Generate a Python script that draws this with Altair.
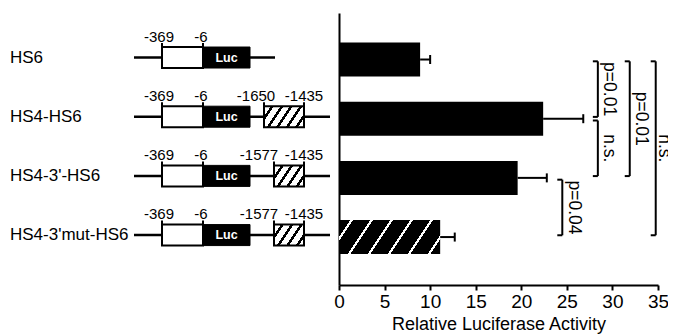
import math
import altair as alt
import pandas as pd

# ---------------- data ----------------
constructs = ["HS6", "HS4-HS6", "HS4-3'-HS6", "HS4-3'mut-HS6"]
activity = [8.9, 22.4, 19.6, 11.1]
sem = [1.1, 4.4, 3.2, 1.6]
mutant = [False, False, False, True]

x_ticks = [0, 5, 10, 15, 20, 25, 30, 35]
x_title = "Relative Luciferase Activity"

cmp_a = ["HS6", "HS4-HS6", "HS6", "HS6", "HS4-3'-HS6"]
cmp_b = ["HS4-HS6", "HS4-3'-HS6", "HS4-3'-HS6", "HS4-3'mut-HS6", "HS4-3'mut-HS6"]
cmp_text = ["p=0.01", "n.s.", "p=0.01", "n.s.", "p=0.04"]
cmp_x = [28.4, 28.4, 31.9, 34.75, 24.5]
cmp_gap = [6.5, 6.5, 6.5, 3.0, 6.5]

# construct schematics (schematic units)
backbone_start = [126, 126, 126, 126]
backbone_end = [267, 322, 322, 322]
promoter_start = [154, 154, 154, 154]
promoter_end = [195, 195, 195, 195]
luc_end = [242, 242, 242, 242]
hs4_start = [None, 256, 266, 266]
hs4_end = [None, 296, 296, 296]
coord_text = [["-369", "-6"], ["-369", "-6", "-1650", "-1435"],
              ["-369", "-6", "-1577", "-1435"], ["-369", "-6", "-1577", "-1435"]]
coord_pos = [[151, 193], [151, 193, 248, 296], [151, 193, 251, 296], [151, 193, 251, 296]]
luc_label = "Luc"

# ---------------- layout ----------------
FONT = "Liberation Sans"
PLOT_W, PLOT_H = 660, 272
ACT_RANGE = [331, 650]
ACT_MAX = 35
Y_DOMAIN = [0.214, 4.81]
ROW_PX = PLOT_H / (Y_DOMAIN[1] - Y_DOMAIN[0])
PX_PER_ACT = (ACT_RANGE[1] - ACT_RANGE[0]) / ACT_MAX


def rows(px):
    return px / ROW_PX


BAR_HALF = rows(17)
CAP_HALF = rows(4.5)
BOX_HALF = rows(10.5)
TICK_LEN = rows(4)
DIAG_SHIFT = rows(-2)
BRK_INSET = rows(1.8)
STUB = 5 / PX_PER_ACT

ACT = alt.Scale(domain=[0, ACT_MAX], range=ACT_RANGE, nice=False, zero=False)
SCH = alt.Scale(domain=[0, PLOT_W], range=[0, PLOT_W], nice=False, zero=False)
YS = alt.Scale(domain=Y_DOMAIN, reverse=True, nice=False, zero=False)
YAX = alt.Axis(title=None, labels=False, ticks=False, grid=False, domain=True,
               domainColor="black", domainWidth=2, offset=-ACT_RANGE[0])
XAX = alt.Axis(values=x_ticks, title=x_title, grid=False, domainColor="black",
               domainWidth=2, tickColor="black", tickWidth=2, tickSize=5,
               labelFont=FONT, labelFontSize=19, labelColor="black", labelPadding=2,
               labelFlush=False, titleFont=FONT, titleFontSize=18,
               titleFontWeight="normal", titleColor="black", titlePadding=4)


def Y(f):
    return alt.Y(f + ":Q", scale=YS, axis=YAX)


def XA(f, axis=None):
    return alt.X(f + ":Q", scale=ACT, axis=axis)


def XS(f):
    return alt.X(f + ":Q", scale=SCH, axis=None)


def hatch_fill(w_px, h_px, period, stripe, phase, base, ink):
    a = 3.0 / h_px
    b = 2.0 / w_px
    c = (a + b) / (a * a + b * b)
    total = 3 * w_px + 2 * h_px
    stops = [{"offset": 0, "color": base}]
    s = phase - period * math.ceil(phase / period)
    while s - stripe / 2 < total:
        lo = max(0.0, (s - stripe / 2) / total)
        hi = min(1.0, (s + stripe / 2) / total)
        if hi > 0 and lo < 1:
            stops += [{"offset": lo, "color": base}, {"offset": lo, "color": ink},
                      {"offset": hi, "color": ink}, {"offset": hi, "color": base}]
        s += period
    stops.append({"offset": 1, "color": base})
    return {"gradient": "linear", "x1": 0, "y1": 0, "x2": c * a, "y2": c * b, "stops": stops}


idx = {name: i + 1 for i, name in enumerate(constructs)}

bars = pd.DataFrame({"construct": constructs, "activity": activity, "sem": sem,
                     "mutant": mutant})
bars["row"] = bars["construct"].map(idx)
bars["base"] = 0.0
bars["top"] = bars["row"] - BAR_HALF
bars["bot"] = bars["row"] + BAR_HALF
bars["hi"] = bars["activity"] + bars["sem"]
bars["cap_top"] = bars["row"] - CAP_HALF
bars["cap_bot"] = bars["row"] + CAP_HALF

plain = bars[~bars["mutant"]]
hatched = bars[bars["mutant"]]

layers = []
layers.append(alt.Chart(plain).mark_rect(fill="black").encode(
    x=XA("base", XAX), x2="activity", y=Y("top"), y2="bot"))
for _, r in hatched.iterrows():
    w = r["activity"] * PX_PER_ACT
    g = hatch_fill(w, 2 * BAR_HALF * ROW_PX, 60, 8, 98, "black", "white")
    layers.append(alt.Chart(pd.DataFrame([r])).mark_rect(fill=g).encode(
        x=XA("base"), x2="activity", y=Y("top"), y2="bot"))
layers.append(alt.Chart(bars).mark_rule(color="black", strokeWidth=2).encode(
    x=XA("activity"), x2="hi", y=Y("row")))
layers.append(alt.Chart(bars).mark_rule(color="black", strokeWidth=2).encode(
    x=XA("hi"), y=Y("cap_top"), y2="cap_bot"))

# significance brackets
cmp = pd.DataFrame({"a": cmp_a, "b": cmp_b, "text": cmp_text, "x": cmp_x, "gap": cmp_gap})
cmp["ya"] = cmp["a"].map(idx) + BRK_INSET
cmp["yb"] = cmp["b"].map(idx) - BRK_INSET
cmp["ym"] = (cmp["ya"] + cmp["yb"]) / 2
cmp["xs"] = cmp["x"] - STUB
cmp["xt"] = cmp["x"] + cmp["gap"] / PX_PER_ACT
stubs = pd.concat([cmp[["x", "xs"]].assign(y=cmp["ya"]), cmp[["x", "xs"]].assign(y=cmp["yb"])])
layers.append(alt.Chart(cmp).mark_rule(color="black", strokeWidth=2).encode(
    x=XA("x"), y=Y("ya"), y2="yb"))
layers.append(alt.Chart(stubs).mark_rule(color="black", strokeWidth=2).encode(
    x=XA("xs"), x2="x", y=Y("y")))
layers.append(alt.Chart(cmp).mark_text(angle=90, align="center", baseline="alphabetic",
                                       font=FONT, fontSize=17.5, color="black").encode(
    x=XA("xt"), y=Y("ym"), text="text:N"))

# schematics
sch = pd.DataFrame({"construct": constructs, "b0": backbone_start, "b1": backbone_end,
                    "p0": promoter_start, "p1": promoter_end, "l1": luc_end})
sch["row"] = sch["construct"].map(idx) + DIAG_SHIFT
sch["top"] = sch["row"] - BOX_HALF
sch["bot"] = sch["row"] + BOX_HALF
sch["lx"] = (sch["p1"] + sch["l1"]) / 2
sch["label"] = luc_label
sch["tx"] = 2

layers.append(alt.Chart(sch).mark_rule(color="black", strokeWidth=2.5).encode(
    x=XS("b0"), x2="b1", y=Y("row")))
layers.append(alt.Chart(sch).mark_rect(fill="white", stroke="black", strokeWidth=2).encode(
    x=XS("p0"), x2="p1", y=Y("top"), y2="bot"))
layers.append(alt.Chart(sch).mark_rect(fill="black", stroke="black", strokeWidth=1).encode(
    x=XS("p1"), x2="l1", y=Y("top"), y2="bot"))

hs = pd.DataFrame({"construct": constructs, "h0": hs4_start, "h1": hs4_end}).dropna()
hs["row"] = hs["construct"].map(idx) + DIAG_SHIFT
hs["top"] = hs["row"] - BOX_HALF
hs["bot"] = hs["row"] + BOX_HALF
hs["w"] = hs["h1"] - hs["h0"]
for w, grp in hs.groupby("w"):
    g = hatch_fill(float(w), 2 * BOX_HALF * ROW_PX, 28.5, 9, 54, "white", "black")
    layers.append(alt.Chart(grp).mark_rect(fill=g, stroke="black", strokeWidth=2).encode(
        x=XS("h0"), x2="h1", y=Y("top"), y2="bot"))

ticks = []
for i, name in enumerate(constructs):
    edges = [promoter_start[i], promoter_end[i]]
    if hs4_start[i] is not None:
        edges += [hs4_start[i], hs4_end[i]]
    for e in edges:
        ticks.append({"x": e, "row": idx[name] + DIAG_SHIFT})
ticks = pd.DataFrame(ticks)
ticks["y0"] = ticks["row"] - BOX_HALF
ticks["y1"] = ticks["row"] - BOX_HALF - TICK_LEN
layers.append(alt.Chart(ticks).mark_rule(color="black", strokeWidth=2).encode(
    x=XS("x"), y=Y("y0"), y2="y1"))

labs = []
for i, name in enumerate(constructs):
    for t, p in zip(coord_text[i], coord_pos[i]):
        labs.append({"text": t, "x": p, "row": idx[name] + DIAG_SHIFT})
labs = pd.DataFrame(labs)
layers.append(alt.Chart(labs).mark_text(align="center", baseline="alphabetic", dy=-16,
                                        font=FONT, fontSize=15, color="black").encode(
    x=XS("x"), y=Y("row"), text="text:N"))
layers.append(alt.Chart(sch).mark_text(align="center", baseline="middle", font=FONT,
                                       fontSize=12.5, fontWeight="bold", color="white").encode(
    x=XS("lx"), y=Y("row"), text="label:N"))
layers.append(alt.Chart(sch).mark_text(align="left", baseline="middle", font=FONT,
                                       fontSize=17, color="black").encode(
    x=XS("tx"), y=Y("row"), text="construct:N"))

chart = alt.layer(*layers).resolve_scale(x="independent").properties(
    width=PLOT_W, height=PLOT_H,
    autosize=alt.AutoSizeParams(type="none"),
    padding={"left": 0, "top": 5, "right": 0, "bottom": 52},
    background="white",
).configure_view(stroke=None)

chart.save("out.html", embed_options={"renderer": "svg", "actions": False})
